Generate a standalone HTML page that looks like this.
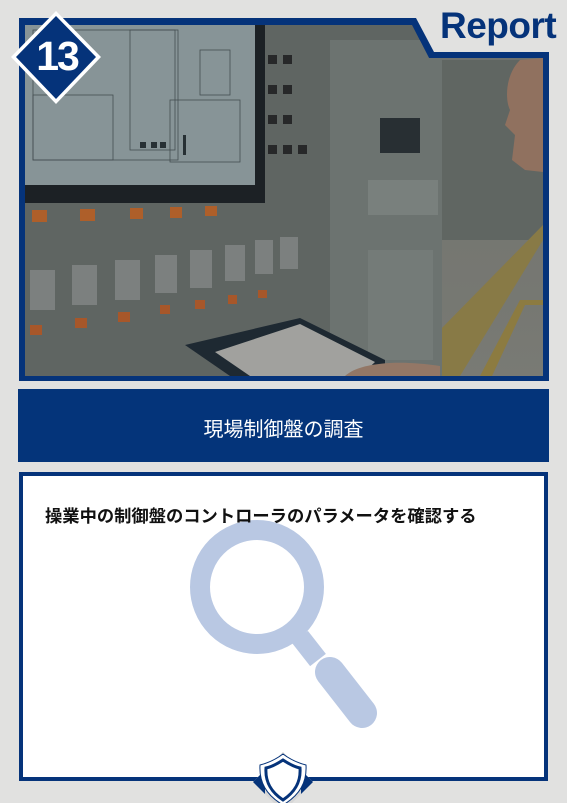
<!DOCTYPE html>
<html><head><meta charset="utf-8"><style>
html,body{margin:0;padding:0}
body{width:567px;height:803px;background:#e1e1e0;position:relative;overflow:hidden;font-family:"Liberation Sans","Noto Sans CJK JP",sans-serif}
.abs{position:absolute}
</style></head><body>
<svg class="abs" style="left:0;top:0" width="567" height="803" viewBox="0 0 567 803">
  <defs>
    <linearGradient id="fac" x1="0" y1="0" x2="0" y2="1">
      <stop offset="0" stop-color="#7d8078"/><stop offset="1" stop-color="#8a8a80"/>
    </linearGradient>
  </defs>
  <polygon points="19,18 416,18 434,52 549,52 549,381 19,381" fill="#05337a"/>
  <g>
    <clipPath id="pc"><polygon points="25,25 412,25 429,58 543,58 543,376 25,376"/></clipPath>
    <g clip-path="url(#pc)">
      <rect x="25" y="25" width="520" height="352" fill="#6c716c"/>
      <rect x="440" y="25" width="105" height="352" fill="url(#fac)"/>
      <rect x="440" y="60" width="105" height="180" fill="#6d726c"/>
      <polygon points="440,330 543,225 543,240 460,376 440,376" fill="#9c8a4a"/>
      <polygon points="480,376 520,300 543,300 543,305 525,305 492,376" fill="#a08b45"/>
      <path d="M520,60 C505,75 505,100 510,110 L505,125 L515,135 L512,160 L525,170 L543,172 L543,58 Z" fill="#a57f68"/>
      <rect x="25" y="25" width="240" height="178" fill="#1d2124"/>
      <rect x="25" y="25" width="230" height="160" fill="#9aa8aa"/>
      <g stroke="#4d5758" stroke-width="0.8" fill="none">
        <rect x="33" y="30" width="145" height="130"/><rect x="33" y="95" width="80" height="65"/>
        <rect x="130" y="30" width="45" height="120"/><rect x="170" y="100" width="70" height="62"/>
        <rect x="200" y="50" width="30" height="45"/>
      </g>
      <g fill="#2a3336"><rect x="140" y="142" width="6" height="6"/><rect x="151" y="142" width="6" height="6"/><rect x="160" y="142" width="6" height="6"/><rect x="183" y="135" width="3" height="20"/></g>
      <g fill="#c86a2a"><rect x="32" y="210" width="15" height="12"/><rect x="80" y="209" width="15" height="12"/><rect x="130" y="208" width="13" height="11"/><rect x="170" y="207" width="12" height="11"/><rect x="205" y="206" width="12" height="10"/></g>
      <g fill="#8d918d">
        <rect x="30" y="270" width="25" height="40"/><rect x="72" y="265" width="25" height="40"/><rect x="115" y="260" width="25" height="40"/><rect x="155" y="255" width="22" height="38"/><rect x="190" y="250" width="22" height="38"/><rect x="225" y="245" width="20" height="36"/><rect x="255" y="240" width="18" height="34"/><rect x="280" y="237" width="18" height="32"/>
      </g>
      <g fill="#c0612a"><rect x="30" y="325" width="12" height="10"/><rect x="75" y="318" width="12" height="10"/><rect x="118" y="312" width="12" height="10"/><rect x="160" y="305" width="10" height="9"/><rect x="195" y="300" width="10" height="9"/><rect x="228" y="295" width="9" height="9"/><rect x="258" y="290" width="9" height="8"/></g>
      <rect x="330" y="40" width="112" height="336" fill="#7b827c"/>
      <rect x="380" y="118" width="40" height="35" fill="#2b3234"/>
      <rect x="368" y="180" width="70" height="35" fill="#8a918b"/>
      <rect x="368" y="250" width="65" height="110" fill="#848b85"/>
      <g fill="#2a2a28"><rect x="268" y="55" width="9" height="9"/><rect x="283" y="55" width="9" height="9"/><rect x="268" y="85" width="9" height="9"/><rect x="283" y="85" width="9" height="9"/><rect x="268" y="115" width="9" height="9"/><rect x="283" y="115" width="9" height="9"/><rect x="268" y="145" width="9" height="9"/><rect x="283" y="145" width="9" height="9"/><rect x="298" y="145" width="9" height="9"/></g>
      <polygon points="185,345 300,318 385,360 385,376 230,376" fill="#1f2b33"/>
      <polygon points="215,352 300,324 375,362 360,376 250,376" fill="#b9b8b2"/>
      <path d="M345,376 C360,362 400,360 440,366 L440,376 Z" fill="#a88770"/>
      <rect x="25" y="25" width="520" height="352" fill="#1a2030" opacity="0.15"/>
    </g>
  </g>
  <polygon points="56,11 101,57 56,104 11,57" fill="#ffffff"/>
  <polygon points="56,16 96,57 56,99 16,57" fill="#05337a"/>
  <rect x="18" y="389" width="531" height="73" fill="#04347a"/>
  <rect x="19" y="472" width="529" height="309" fill="#05337a"/>
  <rect x="23" y="476" width="521" height="301" fill="#ffffff"/>
  <circle cx="257" cy="587" r="57" fill="none" stroke="#b9c8e3" stroke-width="20"/>
  <line x1="300" y1="637" x2="318" y2="660" stroke="#b9c8e3" stroke-width="20"/>
  <line x1="330" y1="672" x2="362" y2="713" stroke="#b9c8e3" stroke-width="30" stroke-linecap="round"/>
  <polygon points="283,752 313,782 283,812 253,782" fill="#d6d6d6"/>
  <polygon points="253,782 265,770 265,794" fill="#05337a"/>
  <polygon points="313,782 301,770 301,794" fill="#05337a"/>
  <path d="M283,754 C291,760 298,763 306,765 C307,782 300,795 283,805 C266,795 259,782 260,765 C268,763 275,760 283,754 Z" fill="#fff" stroke="#05337a" stroke-width="1"/>
  <path d="M283,760 C289,764 295,767 300,768 C301,782 295,792 283,800 C271,792 265,782 266,768 C271,767 277,764 283,760 Z" fill="#fff" stroke="#05337a" stroke-width="3"/>
</svg>
<div class="abs" style="left:440px;top:5px;font-size:37px;font-weight:bold;color:#05337a;letter-spacing:-0.5px">Report</div>
<div class="abs" style="left:22px;top:33px;width:70px;text-align:center;font-size:41px;font-weight:bold;color:#fff;letter-spacing:-2px">13</div>
<div class="abs" style="left:18px;top:413px;width:531px;text-align:center;font-size:20px;color:#fff">現場制御盤の調査</div>
<div class="abs" style="left:45px;top:502px;font-size:17.3px;font-weight:bold;color:#111;white-space:nowrap">操業中の制御盤のコントローラのパラメータを確認する</div>
</body></html>
